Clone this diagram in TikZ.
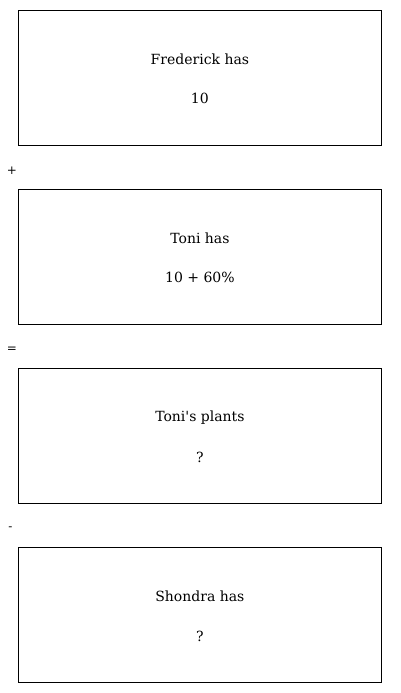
\documentclass[tikz,border=0pt]{standalone}
\usepackage{fontspec}
\setmainfont{DejaVu Serif}
\begin{document}
\begin{tikzpicture}[x=1pt,y=-1pt,
  card/.style={draw,line width=0.8pt,minimum width=363pt,minimum height=135pt,anchor=north west,inner sep=0pt},
  lbl/.style={font=\fontsize{14}{16}\selectfont,anchor=center},
  op/.style={font=\fontsize{12}{14}\selectfont,anchor=center}]
\useasboundingbox (0,0) rectangle (400,693);
\node[card] (b1) at (18,10) {};
\node[card] (b2) at (18,189) {};
\node[card] (b3) at (18,368) {};
\node[card] (b4) at (18,547) {};
\node[lbl] (t1a) at ([yshift=18.5pt]b1.center) {Frederick has};
\node[lbl] (t1b) at ([yshift=-21pt]b1.center) {10};
\node[lbl] (t2a) at ([yshift=18.5pt]b2.center) {Toni has};
\node[lbl] (t2b) at ([yshift=-21pt]b2.center) {10 + 60\%};
\node[lbl] (t3a) at ([yshift=18.5pt]b3.center) {Toni\textquotesingle s plants};
\node[lbl] (t3b) at ([yshift=-21pt]b3.center) {?};
\node[lbl] (t4a) at ([yshift=18.5pt]b4.center) {Shondra has};
\node[lbl] (t4b) at ([yshift=-21pt]b4.center) {?};
\node[op] (o1) at (12,171) {+};
\node[op] (o2) at (12,350) {=};
\node[op] (o3) at (10.5,529) {-};
\end{tikzpicture}
\end{document}
